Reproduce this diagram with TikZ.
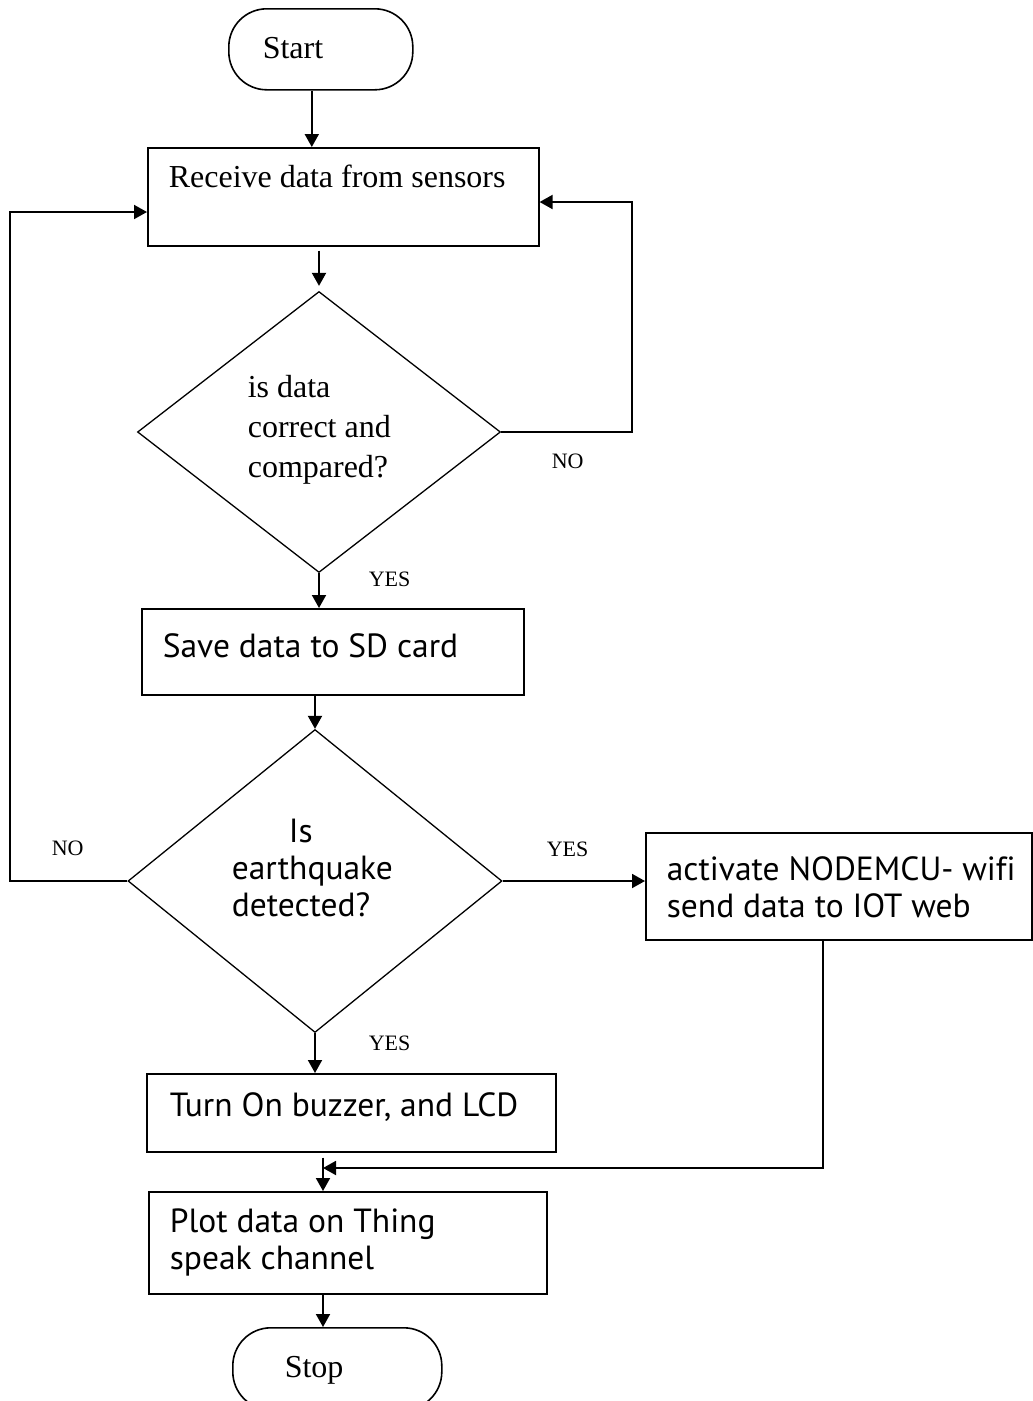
\documentclass[tikz,border=0pt]{standalone}
\usepackage{fontspec}
\setmainfont{Liberation Serif}
\newfontfamily\sansf[Ligatures=NoCommon]{PT Sans}
\usetikzlibrary{shapes.geometric,arrows.meta}
\begin{document}
\begin{tikzpicture}[x=1pt,y=-1pt,
  line width=1.6pt,
  arr/.style={line width=1.9pt,-{Triangle[length=13pt,width=14pt]}},
  box/.style={draw, rectangle, inner sep=0pt, anchor=north west},
  term/.style={draw, rectangle, rounded corners=38pt, inner sep=0pt, anchor=north west},
  dia/.style={draw, diamond, inner sep=0pt, line width=1.3pt},
  stxt/.style={inner sep=0pt, anchor=base west, font=\fontsize{32}{40}\selectfont},
  lbl/.style={inner sep=0pt, anchor=base west, font=\fontsize{22}{26}\selectfont},
  sstxt/.style={inner sep=0pt, anchor=base west, font=\sansf\fontsize{33.5}{37}\selectfont}]
\useasboundingbox (0,0) rectangle (1033,1401);
\clip (0,0) rectangle (1033,1401);

% start
\node[term, minimum width=184pt, minimum height=81pt] (start) at (228,8) {};
\node[stxt] (starttxt) at (262,58) {Start};

% receive
\node[box, minimum width=391pt, minimum height=98pt] (rec) at (147,147) {};
\node[stxt] (rectxt) at (168,187) {Receive data from sensors};

% decision 1
\node[dia, minimum width=363pt, minimum height=281pt] (d1) at (319,432) {};
\node[stxt] (d1a) at (247,397) {is data};
\node[stxt] (d1b) at (247,437) {correct and};
\node[stxt] (d1c) at (247,477) {compared?};
\node[lbl] (no1) at (551,468) {NO};
\node[lbl] (yes1) at (368,586) {YES};

% save
\node[box, minimum width=382pt, minimum height=86pt] (save) at (141,608) {};
\node[sstxt] (savetxt) at (162,657) {Save data to SD card};

% decision 2
\node[dia, minimum width=374pt, minimum height=303pt] (d2) at (315,881) {};
\node[sstxt] (d2a) at (288,842) {Is};
\node[sstxt] (d2b) at (231,879) {earthquake};
\node[sstxt] (d2c) at (231,916) {detected?};
\node[lbl] (no2) at (51,855) {NO};
\node[lbl] (yes2) at (546,856) {YES};
\node[lbl] (yes3) at (368,1050) {YES};

% activate
\node[box, minimum width=386pt, minimum height=107pt] (act) at (645,832) {};
\node[sstxt] (acta) at (666,880) {activate NODEMCU- wifi};
\node[sstxt] (actb) at (666,917) {send data to IOT web};

% turn on
\node[box, minimum width=409pt, minimum height=78pt] (turn) at (146,1073) {};
\node[sstxt] (turntxt) at (169,1116) {Turn On buzzer, and LCD};

% plot
\node[box, minimum width=398pt, minimum height=102pt] (plot) at (148,1191) {};
\node[sstxt] (plota) at (169,1232) {Plot data on Thing};
\node[sstxt] (plotb) at (169,1269) {speak channel};

% stop
\node[term, minimum width=209pt, minimum height=82pt] (stop) at (232,1327) {};
\node[stxt] (stoptxt) at (284,1377) {Stop};

% helper coordinates
\coordinate (lc) at (10,212);
\coordinate (rc) at (632,202);
\coordinate (jc) at (323,1168);
\coordinate (ac) at (823,1168);

% connectors
\draw[arr] ([xshift=-9pt]start.south) -- ([xshift=-9pt]start.south |- rec.north);
\draw[arr, shorten <=4pt, shorten >=5pt] (d1.north |- rec.south) -- (d1.north);
\draw[arr] (d1.south) -- (d1.south |- save.north);
\draw[arr] (d2.north |- save.south) -- (d2.north);
\draw[arr] (d2.south) -- (d2.south |- turn.north);
\draw[arr] (d2.east) -- (d2.east -| act.west);
\draw[arr] (d2.west) -- (d2.west -| lc) -- (lc) -- (lc -| rec.west);
\draw[arr] (d1.east) -- (d1.east -| rc) -- (rc) -- (rc -| rec.east);
\draw[arr] (ac |- act.south) -- (ac) -- (jc);
\draw[arr, shorten <=5pt] (jc |- turn.south) -- (jc |- plot.north);
\draw[arr] (jc |- plot.south) -- (jc |- stop.north);
\end{tikzpicture}
\end{document}
